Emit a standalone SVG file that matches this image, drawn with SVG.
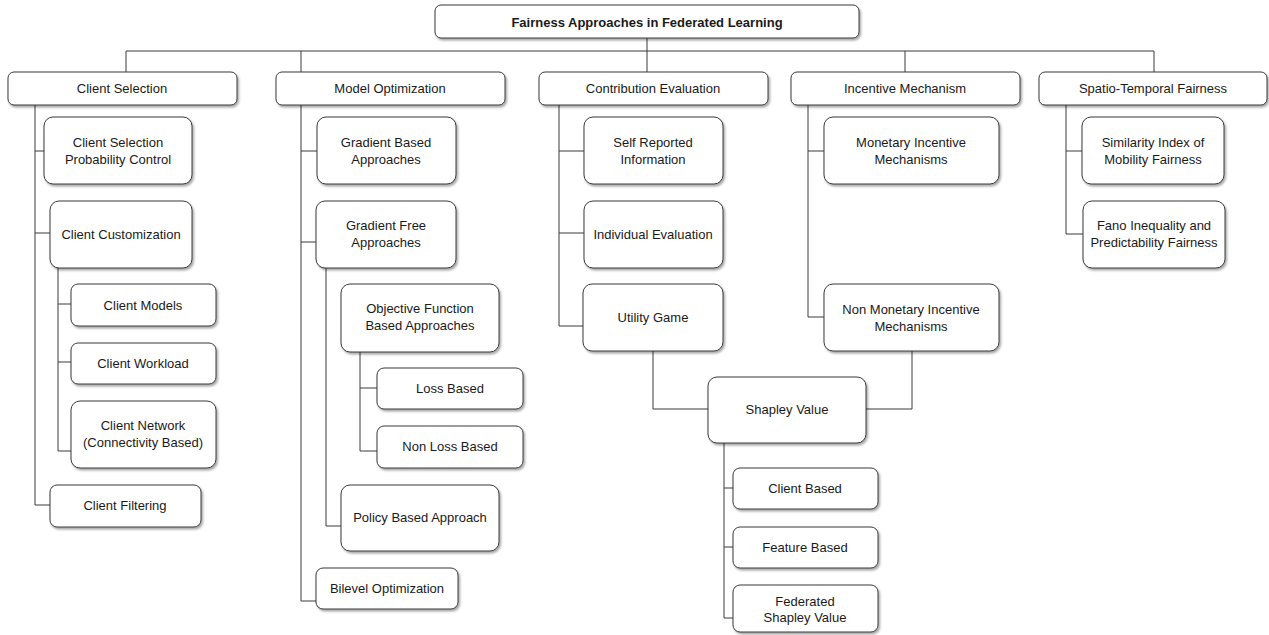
<svg xmlns="http://www.w3.org/2000/svg" width="1269" height="635" viewBox="0 0 1269 635">
<defs>
<filter id="sh" x="-10%" y="-10%" width="125%" height="140%">
<feDropShadow dx="1.5" dy="2" stdDeviation="1" flood-color="#000" flood-opacity="0.35"/>
</filter>
<style>
.b{fill:#fff;stroke:#3a3a3a;stroke-width:1;filter:url(#sh)}
.t{font-family:"Liberation Sans",Arial,Helvetica,sans-serif;font-size:13px;fill:#1a1a1a;text-anchor:middle;dominant-baseline:central}
.bold{font-weight:bold}
.c{fill:none;stroke:#3a3a3a;stroke-width:1}
</style>
</defs>
<rect width="1269" height="635" fill="#fff"/>
<g id="connectors">
<path class="c" d="M647,38V51M126,51H1154M126,51V72M301,51V72M647,51V72M905,51V72M1154,51V72"/>
<path class="c" d="M35,105V505H50M35,151H44M35,233H50"/>
<path class="c" d="M58,268V451H71M58,304H71M58,362H71"/>
<path class="c" d="M301,105V601H316M301,151H317M301,242H316"/>
<path class="c" d="M326,268V526H341"/>
<path class="c" d="M360,352V451H377M360,388H377"/>
<path class="c" d="M559,105V326H583M559,151H584M559,233H584"/>
<path class="c" d="M653,351V409H708M912,351V409H866"/>
<path class="c" d="M724,443V618H733M724,488H733M724,547H733"/>
<path class="c" d="M808,105V317H824M808,151H824"/>
<path class="c" d="M1066,105V234H1083M1066,151H1082"/>
</g>
<g id="root"><rect class="b" x="435" y="5" width="424" height="33" rx="6"/><text class="t bold" x="647" y="22">Fairness Approaches in Federated Learning</text></g>
<g id="client-selection"><rect class="b" x="8" y="72" width="229" height="33" rx="6"/><text class="t" x="122" y="88">Client Selection</text></g>
<g id="model-optimization"><rect class="b" x="276" y="72" width="229" height="33" rx="6"/><text class="t" x="390" y="88">Model Optimization</text></g>
<g id="contribution-evaluation"><rect class="b" x="539" y="72" width="229" height="33" rx="6"/><text class="t" x="653" y="88">Contribution Evaluation</text></g>
<g id="incentive-mechanism"><rect class="b" x="791" y="72" width="229" height="33" rx="6"/><text class="t" x="905" y="88">Incentive Mechanism</text></g>
<g id="spatio-temporal"><rect class="b" x="1039" y="72" width="228" height="33" rx="6"/><text class="t" x="1153" y="88">Spatio-Temporal Fairness</text></g>

<g id="cs-prob"><rect class="b" x="44" y="117" width="148" height="67" rx="9"/><text class="t" x="118" y="142">Client Selection</text><text class="t" x="118" y="159">Probability Control</text></g>
<g id="client-customization"><rect class="b" x="50" y="201" width="142" height="67" rx="9"/><text class="t" x="121" y="234">Client Customization</text></g>
<g id="client-models"><rect class="b" x="71" y="284" width="145" height="42" rx="7"/><text class="t" x="143" y="305">Client Models</text></g>
<g id="client-workload"><rect class="b" x="71" y="343" width="145" height="41" rx="7"/><text class="t" x="143" y="363">Client Workload</text></g>
<g id="client-network"><rect class="b" x="71" y="401" width="145" height="67" rx="9"/><text class="t" x="143" y="425">Client Network</text><text class="t" x="143" y="442">(Connectivity Based)</text></g>
<g id="client-filtering"><rect class="b" x="50" y="485" width="151" height="42" rx="7"/><text class="t" x="125" y="505">Client Filtering</text></g>

<g id="gradient-based"><rect class="b" x="317" y="117" width="139" height="67" rx="9"/><text class="t" x="386" y="142">Gradient Based</text><text class="t" x="386" y="159">Approaches</text></g>
<g id="gradient-free"><rect class="b" x="316" y="201" width="140" height="67" rx="9"/><text class="t" x="386" y="225">Gradient Free</text><text class="t" x="386" y="242">Approaches</text></g>
<g id="objective-function"><rect class="b" x="341" y="284" width="158" height="68" rx="9"/><text class="t" x="420" y="308">Objective Function</text><text class="t" x="420" y="325">Based Approaches</text></g>
<g id="loss-based"><rect class="b" x="377" y="368" width="146" height="41" rx="7"/><text class="t" x="450" y="388">Loss Based</text></g>
<g id="non-loss-based"><rect class="b" x="377" y="426" width="146" height="42" rx="7"/><text class="t" x="450" y="446">Non Loss Based</text></g>
<g id="policy-based"><rect class="b" x="341" y="485" width="158" height="66" rx="9"/><text class="t" x="420" y="517">Policy Based Approach</text></g>
<g id="bilevel"><rect class="b" x="316" y="568" width="142" height="41" rx="7"/><text class="t" x="387" y="588">Bilevel Optimization</text></g>

<g id="self-reported"><rect class="b" x="584" y="117" width="139" height="67" rx="9"/><text class="t" x="653" y="142">Self Reported</text><text class="t" x="653" y="159">Information</text></g>
<g id="individual-evaluation"><rect class="b" x="584" y="201" width="139" height="67" rx="9"/><text class="t" x="653" y="234">Individual Evaluation</text></g>
<g id="utility-game"><rect class="b" x="583" y="284" width="140" height="67" rx="9"/><text class="t" x="653" y="317">Utility Game</text></g>
<g id="shapley-value"><rect class="b" x="708" y="377" width="158" height="66" rx="9"/><text class="t" x="787" y="409">Shapley Value</text></g>
<g id="client-based"><rect class="b" x="733" y="468" width="145" height="41" rx="7"/><text class="t" x="805" y="488">Client Based</text></g>
<g id="feature-based"><rect class="b" x="733" y="527" width="145" height="41" rx="7"/><text class="t" x="805" y="547">Feature Based</text></g>
<g id="federated-shapley"><rect class="b" x="733" y="585" width="145" height="47" rx="7"/><text class="t" x="805" y="601">Federated</text><text class="t" x="805" y="617">Shapley Value</text></g>

<g id="monetary"><rect class="b" x="824" y="117" width="175" height="67" rx="9"/><text class="t" x="911" y="142">Monetary Incentive</text><text class="t" x="911" y="159">Mechanisms</text></g>
<g id="non-monetary"><rect class="b" x="824" y="284" width="175" height="67" rx="9"/><text class="t" x="911" y="309">Non Monetary Incentive</text><text class="t" x="911" y="326">Mechanisms</text></g>

<g id="similarity"><rect class="b" x="1082" y="117" width="142" height="67" rx="9"/><text class="t" x="1153" y="142">Similarity Index of</text><text class="t" x="1153" y="159">Mobility Fairness</text></g>
<g id="fano"><rect class="b" x="1083" y="201" width="142" height="67" rx="9"/><text class="t" x="1154" y="225">Fano Inequality and</text><text class="t" x="1154" y="242">Predictability Fairness</text></g>
</svg>
